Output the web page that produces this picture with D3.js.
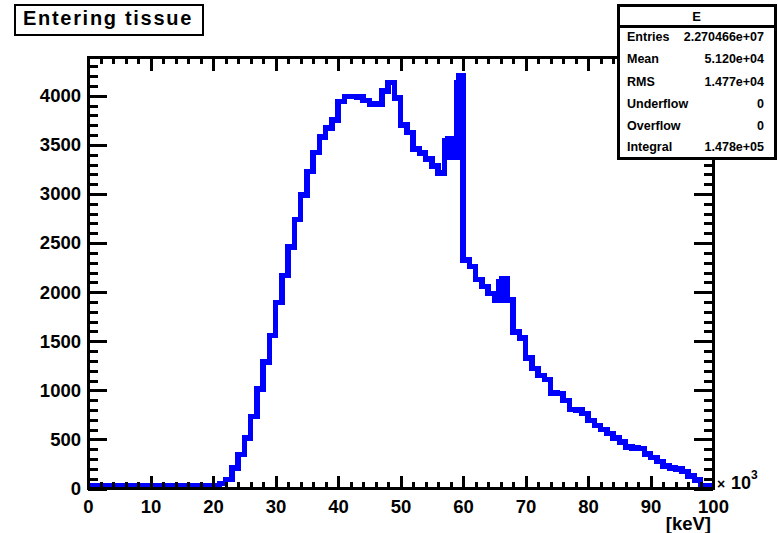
<!DOCTYPE html>
<html>
<head>
<meta charset="utf-8">
<script src="https://cdn.jsdelivr.net/npm/d3@7"></script>
<style>
  html, body { margin: 0; padding: 0; background: #fff; }
  svg { display: block; }
  text { font-family: "Liberation Sans", Arial, Helvetica, sans-serif; font-weight: bold; fill: #000; }
</style>
</head>
<body>
<svg id="chart" width="778" height="533"></svg>
<script>
// Photon energy spectrum, 1 keV bins from 0 to 100 keV (axis shown in units of 10^3 eV)
const binStartKeV = 0;
const binWidthKeV = 1;
const counts = [
  25, 25, 25, 25, 25, 25, 25, 25, 25, 25,
  25, 25, 25, 25, 25, 25, 25, 25, 25, 25,
  30, 50, 90, 207, 344, 514, 735, 1014, 1286, 1560,
  1893, 2170, 2460, 2740, 2990, 3228, 3422, 3578, 3670, 3755,
  3942, 3993, 3995, 3990, 3952, 3915, 3915, 4050, 4135, 3976,
  3704, 3626, 3456, 3415, 3354, 3286, 3215, 3470, 3470, 4200,
  2327, 2259, 2130, 2058, 1987, 1918, 1990, 1918, 1595, 1533,
  1330, 1221, 1153, 1109, 973, 970, 898, 806, 800, 762,
  694, 643, 599, 558, 513, 473, 425, 415, 405, 350,
  316, 275, 231, 207, 200, 173, 129, 88, 30, 25
];

// Finer binning around the tungsten K-alpha and K-beta lines
const kAlphaEdges = [57, 57.25, 57.5, 57.75, 58, 58.25, 58.5, 58.75, 59, 59.25, 60];
const kAlphaCounts = [3540, 3372, 3566, 3372, 3566, 3372, 3566, 3372, 4130, 4200];
const kBetaEdges = [65.75, 66, 66.25, 66.5, 66.75, 67];
const kBetaCounts = [2110, 1918, 2140, 1918, 2140];

// Axis ticks
const xMajorTicks = [0, 10, 20, 30, 40, 50, 60, 70, 80, 90, 100];
const xTickLabels = ["0", "10", "20", "30", "40", "50", "60", "70", "80", "90", "100"];
const yMajorTicks = [0, 500, 1000, 1500, 2000, 2500, 3000, 3500, 4000];
const yTickLabels = ["0", "500", "1000", "1500", "2000", "2500", "3000", "3500", "4000"];

// Texts
const titleText = "Entering tissue";
const xAxisTitle = "[keV]";
const statsName = "E";
const statsEntries = "2.270466e+07";

// ---- layout ----
const frame = { left: 88, right: 713, top: 57.5, bottom: 488.5 };
const xDomain = [0, 100];
const yDomain = [0, 4390];

const svg = d3.select("#chart");
const x = d3.scaleLinear().domain(xDomain).range([frame.left, frame.right]);
const y = d3.scaleLinear().domain(yDomain).range([frame.bottom, frame.top]);

// ---- histogram steps: coarse bins with fine overlays spliced in ----
let steps = counts.map((v, i) => ({
  x0: binStartKeV + i * binWidthKeV,
  x1: binStartKeV + (i + 1) * binWidthKeV,
  v
}));
function splice(edges, vals) {
  const a = edges[0], b = edges[edges.length - 1];
  const out = [];
  steps.forEach(s => {
    if (s.x1 <= a || s.x0 >= b) { out.push(s); return; }
    if (s.x0 < a) out.push({ x0: s.x0, x1: a, v: s.v });
    if (s.x1 > b) out.push({ x0: b, x1: s.x1, v: s.v });
  });
  vals.forEach((v, i) => out.push({ x0: edges[i], x1: edges[i + 1], v }));
  steps = out.sort((p, q) => p.x0 - q.x0);
}
splice(kAlphaEdges, kAlphaCounts);
splice(kBetaEdges, kBetaCounts);

const pts = steps.map(s => [s.x0, s.v]);
pts.push([steps[steps.length - 1].x1, steps[steps.length - 1].v]);

const line = d3.line()
  .x(d => x(d[0]))
  .y(d => y(d[1]))
  .curve(d3.curveStepAfter);

svg.append("path")
  .datum(pts)
  .attr("d", line)
  .attr("fill", "none")
  .attr("stroke", "#0000ff")
  .attr("stroke-width", 5.5)
  .attr("stroke-linejoin", "miter")
  .attr("shape-rendering", "crispEdges");

// ---- axes (ticks point into the frame) ----
const yMinor = d3.range(100, 4390, 100).filter(v => v % 500 !== 0);
const xMinor = d3.range(2, 100, 2).filter(v => v % 10 !== 0);

function styleAxis(g) {
  g.select(".domain").remove();
  g.selectAll(".tick line")
    .attr("stroke", "#000")
    .attr("stroke-width", 3)
    .attr("shape-rendering", "crispEdges");
  g.selectAll(".tick text")
    .style("font-size", "18.5px")
    .attr("fill", "#000");
}

// left
svg.append("g").attr("transform", `translate(${frame.left},0)`)
  .call(d3.axisLeft(y).tickValues(yMajorTicks).tickSize(-19).tickPadding(7)
    .tickFormat((d, i) => yTickLabels[i]))
  .call(styleAxis);
svg.append("g").attr("transform", `translate(${frame.left},0)`)
  .call(d3.axisLeft(y).tickValues(yMinor).tickSize(-9.5).tickFormat(""))
  .call(styleAxis);
// right
svg.append("g").attr("transform", `translate(${frame.right},0)`)
  .call(d3.axisRight(y).tickValues(yMajorTicks).tickSize(-19).tickFormat(""))
  .call(styleAxis);
svg.append("g").attr("transform", `translate(${frame.right},0)`)
  .call(d3.axisRight(y).tickValues(yMinor).tickSize(-9.5).tickFormat(""))
  .call(styleAxis);
// bottom
svg.append("g").attr("transform", `translate(0,${frame.bottom})`)
  .call(d3.axisBottom(x).tickValues(xMajorTicks).tickSize(-13).tickPadding(11)
    .tickFormat((d, i) => xTickLabels[i]))
  .call(styleAxis);
svg.append("g").attr("transform", `translate(0,${frame.bottom})`)
  .call(d3.axisBottom(x).tickValues(xMinor).tickSize(-6.5).tickFormat(""))
  .call(styleAxis);
// top
svg.append("g").attr("transform", `translate(0,${frame.top})`)
  .call(d3.axisTop(x).tickValues(xMajorTicks).tickSize(-13).tickFormat(""))
  .call(styleAxis);
svg.append("g").attr("transform", `translate(0,${frame.top})`)
  .call(d3.axisTop(x).tickValues(xMinor).tickSize(-6.5).tickFormat(""))
  .call(styleAxis);

// frame
svg.append("rect")
  .attr("x", frame.left).attr("y", frame.top)
  .attr("width", frame.right - frame.left).attr("height", frame.bottom - frame.top)
  .attr("fill", "none").attr("stroke", "#000").attr("stroke-width", 3)
  .attr("shape-rendering", "crispEdges");

// axis multiplier and title
const mult = svg.append("text").attr("x", 717).attr("y", 489).style("font-size", "18px");
mult.append("tspan").style("font-size", "14px").text("\u00d7");
mult.append("tspan").attr("x", 731).text("10");
mult.append("tspan").attr("dy", -10).style("font-size", "12px").text("3");

svg.append("text")
  .attr("x", 711).attr("y", 529.5)
  .attr("text-anchor", "end")
  .style("font-size", "18.5px")
  .text(xAxisTitle);

// ---- title box ----
svg.append("rect")
  .attr("x", 15).attr("y", 5).attr("width", 188).attr("height", 30)
  .attr("fill", "#fff").attr("stroke", "#000").attr("stroke-width", 2)
  .attr("shape-rendering", "crispEdges");
svg.append("text")
  .attr("x", 23).attr("y", 25)
  .style("font-size", "20px")
  .style("letter-spacing", "1.7px")
  .text(titleText);

// ---- statistics box ----
const total = d3.sum(counts);
const centersEV = counts.map((v, i) => (binStartKeV + (i + 0.5) * binWidthKeV) * 1000);
const mean = d3.sum(counts, (v, i) => v * centersEV[i]) / total;
const rms = Math.sqrt(d3.sum(counts, (v, i) => v * (centersEV[i] - mean) ** 2) / total);
const rootFmt = v => d3.format(".3e")(v).replace(/e([+-])(\d)$/, "e$10$2");

const statsRows = [
  ["Entries", statsEntries],
  ["Mean", rootFmt(mean)],
  ["RMS", rootFmt(rms)],
  ["Underflow", "0"],
  ["Overflow", "0"],
  ["Integral", rootFmt(total)]
];

const sb = { x: 618, y: 5, w: 157, h: 153, header: 21.5 };
svg.append("rect")
  .attr("x", sb.x).attr("y", sb.y).attr("width", sb.w).attr("height", sb.h)
  .attr("fill", "#fff").attr("stroke", "#000").attr("stroke-width", 3)
  .attr("shape-rendering", "crispEdges");
svg.append("line")
  .attr("x1", sb.x).attr("x2", sb.x + sb.w)
  .attr("y1", sb.y + sb.header).attr("y2", sb.y + sb.header)
  .attr("stroke", "#000").attr("stroke-width", 3)
  .attr("shape-rendering", "crispEdges");
svg.append("text")
  .attr("x", sb.x + sb.w / 2).attr("y", sb.y + 15.5)
  .attr("text-anchor", "middle")
  .style("font-size", "13px")
  .text(statsName);

const rowBase = [41, 63, 86, 108, 129.5, 151];
statsRows.forEach((r, i) => {
  svg.append("text").attr("x", 627).attr("y", rowBase[i])
    .style("font-size", "12.5px").text(r[0]);
  svg.append("text").attr("x", 764).attr("y", rowBase[i])
    .attr("text-anchor", "end")
    .style("font-size", "12.5px").text(r[1]);
});
</script>
</body>
</html>
